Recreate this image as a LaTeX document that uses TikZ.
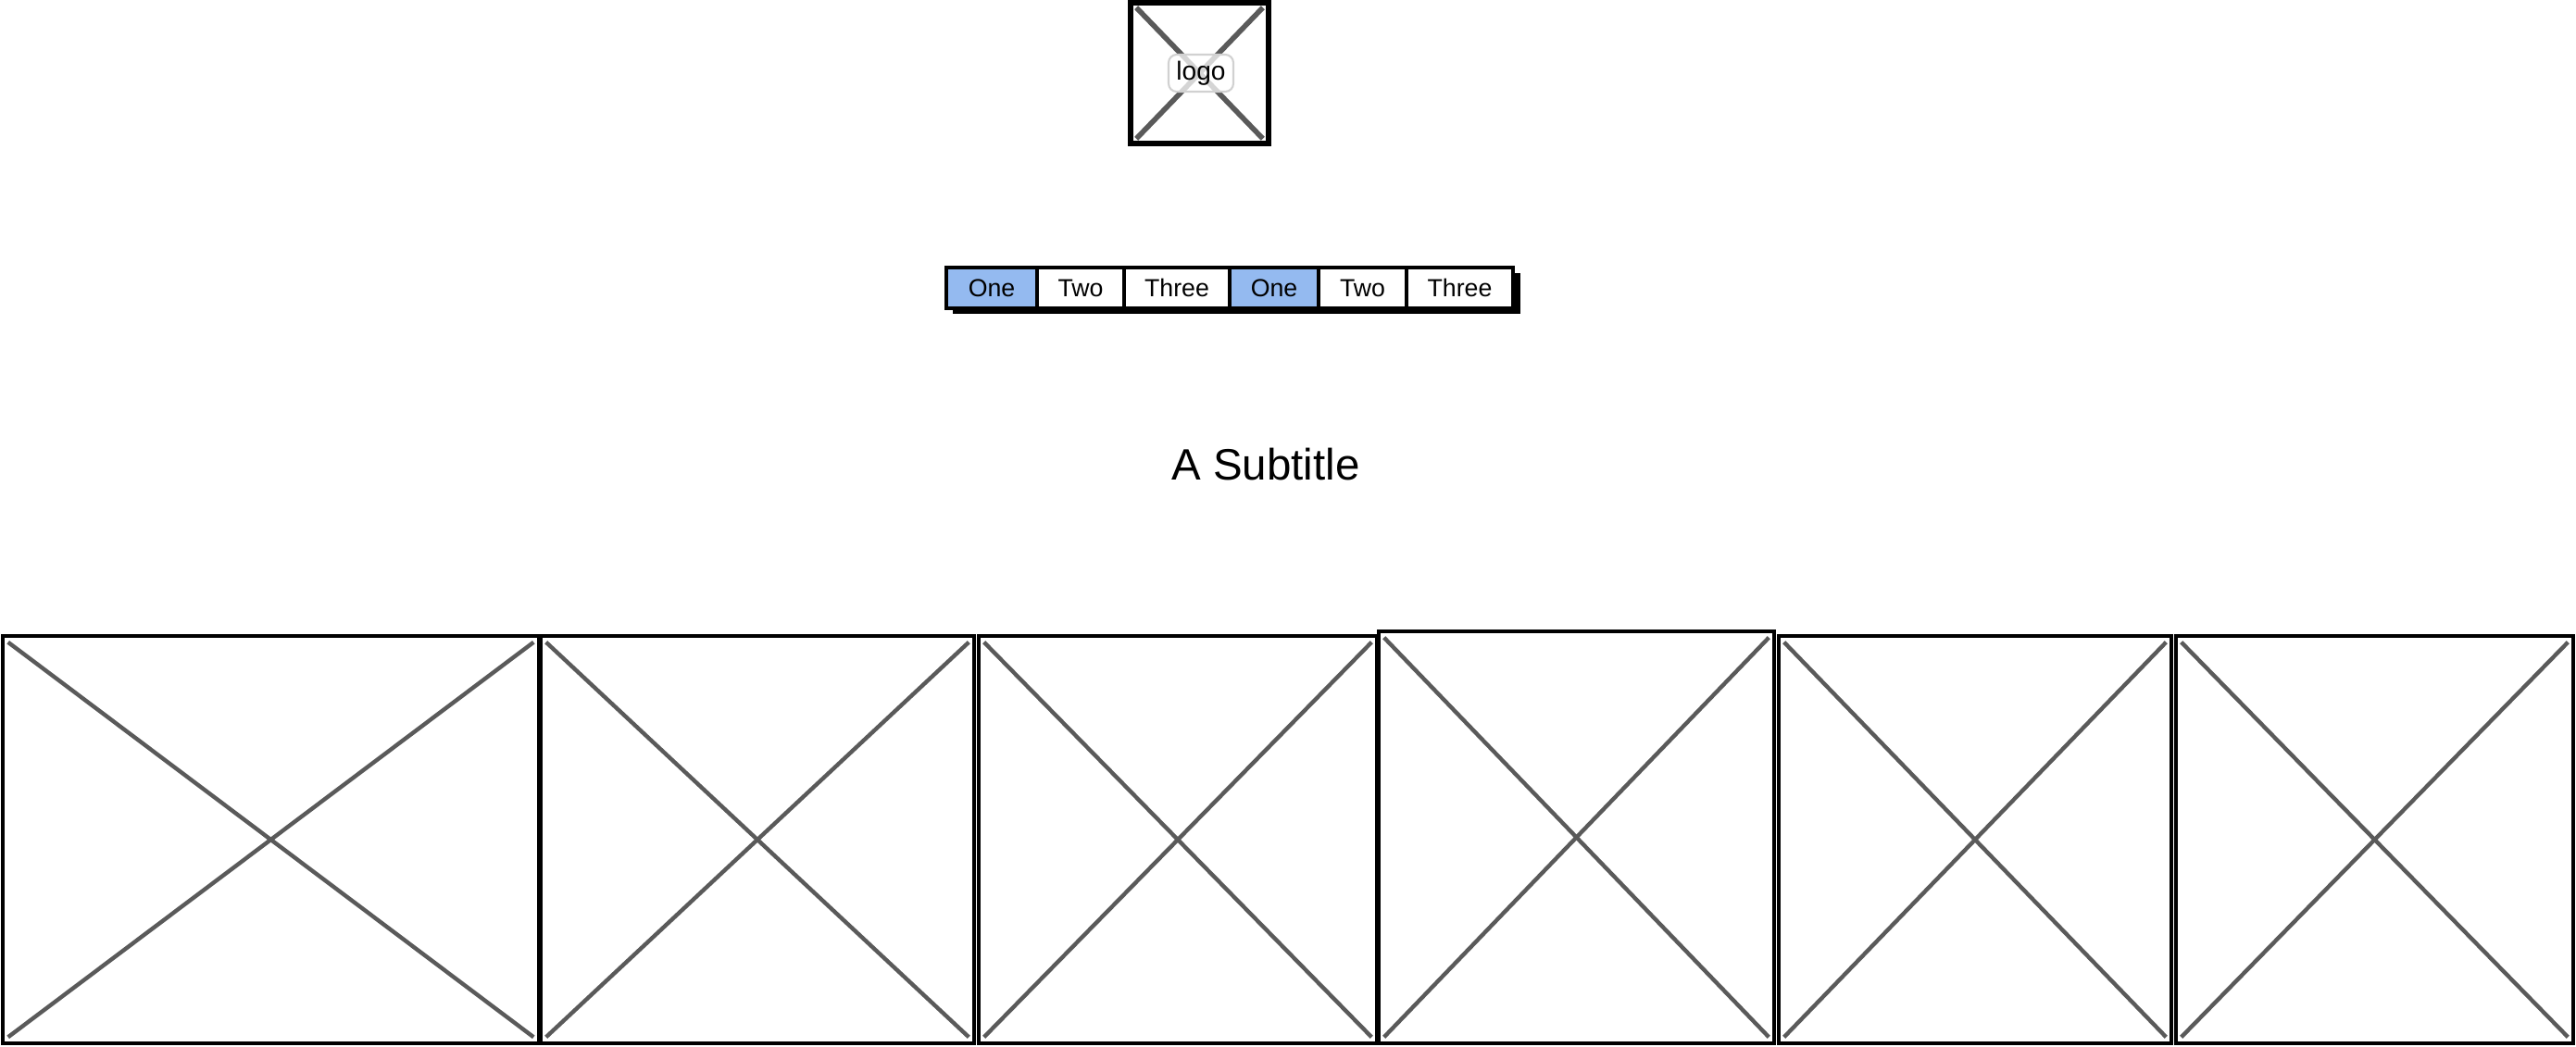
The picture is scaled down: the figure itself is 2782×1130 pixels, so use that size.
\documentclass[tikz,border=0pt]{standalone}
\usepackage{fontspec}
\setmainfont{Liberation Sans}
\usetikzlibrary{fit}
\definecolor{tabblue}{RGB}{148,186,240}
\definecolor{xgray}{RGB}{90,90,90}
\begin{document}
\begin{tikzpicture}[x=0.01cm,y=-0.01cm,
  frame/.style={draw=black,line width=1.3pt,inner sep=0pt,fill=white},
  cross/.style={draw=xgray,line width=1.25pt},
  logocross/.style={draw=xgray,line width=1.6pt},
  tabcell/.style={draw=black,line width=1.1pt,inner sep=0pt},
  tabsel/.style={tabcell,fill=tabblue},
  tabplain/.style={tabcell,fill=white},
  tabtext/.style={font=\fontsize{7.6pt}{9pt}\selectfont},
  shadowbox/.style={fill=black,draw=black,inner sep=0pt},
  lbl/.style={draw=black!18,line width=0.6pt,rounded corners=2.5pt,fill=white,fill opacity=0.75,inner sep=0pt},
  subtitle/.style={font=\fontsize{13.5pt}{15pt}\selectfont}]
\useasboundingbox (0,0) rectangle (2782,1130);

% logo placeholder
\coordinate (lg-nw) at (1221,3);
\coordinate (lg-se) at (1370,155);
\node[frame,line width=1.6pt,fit=(lg-nw)(lg-se)] (logo) {};
\draw[logocross] ([shift={(9,8)}]logo.north west) -- ([shift={(-9,-8)}]logo.south east);
\draw[logocross] ([shift={(9,-8)}]logo.south west) -- ([shift={(-9,8)}]logo.north east);
\coordinate (ll-nw) at (1262,59);
\coordinate (ll-se) at (1332,99);
\node[lbl,fit=(ll-nw)(ll-se)] (logolbl) {};
\node[font=\fontsize{8pt}{9pt}\selectfont] (logotext) at (logolbl.center) {logo};

% tab bar
\coordinate (sh-nw) at (1030,296);
\coordinate (sh-se) at (1641,338);
\node[shadowbox,fit=(sh-nw)(sh-se)] (shadow) {};
\coordinate (t1a) at (1022,289); \coordinate (t1b) at (1120,333);
\coordinate (t2a) at (1120,289); \coordinate (t2b) at (1214,333);
\coordinate (t3a) at (1214,289); \coordinate (t3b) at (1328,333);
\coordinate (t4a) at (1328,289); \coordinate (t4b) at (1424,333);
\coordinate (t5a) at (1424,289); \coordinate (t5b) at (1519,333);
\coordinate (t6a) at (1519,289); \coordinate (t6b) at (1634,333);
\node[tabsel,fit=(t1a)(t1b)] (tab1) {};
\node[tabplain,fit=(t2a)(t2b)] (tab2) {};
\node[tabplain,fit=(t3a)(t3b)] (tab3) {};
\node[tabsel,fit=(t4a)(t4b)] (tab4) {};
\node[tabplain,fit=(t5a)(t5b)] (tab5) {};
\node[tabplain,fit=(t6a)(t6b)] (tab6) {};
\node[tabtext] (tx1) at (tab1.center) {One};
\node[tabtext] (tx2) at (tab2.center) {Two};
\node[tabtext] (tx3) at (tab3.center) {Three};
\node[tabtext] (tx4) at (tab4.center) {One};
\node[tabtext] (tx5) at (tab5.center) {Two};
\node[tabtext] (tx6) at (tab6.center) {Three};

% subtitle
\node[subtitle] (sub) at (1367,502) {A Subtitle};

% image placeholders
\foreach \n/\xa/\ya/\xb/\yb in {b1/3/687/582/1127, b2/584/687/1052/1127, b3/1057/687/1487/1127,
  b4/1489/682/1916/1127, b5/1921/687/2345/1127, b6/2350/687/2779/1127}{
  \coordinate (\n-nw) at (\xa,\ya);
  \coordinate (\n-se) at (\xb,\yb);
  \node[frame,fit=(\n-nw)(\n-se)] (\n) {};
  \draw[cross] ([shift={(8,9)}]\n.north west) -- ([shift={(-8,-9)}]\n.south east);
  \draw[cross] ([shift={(8,-9)}]\n.south west) -- ([shift={(-8,9)}]\n.north east);
}
\end{tikzpicture}
\end{document}
